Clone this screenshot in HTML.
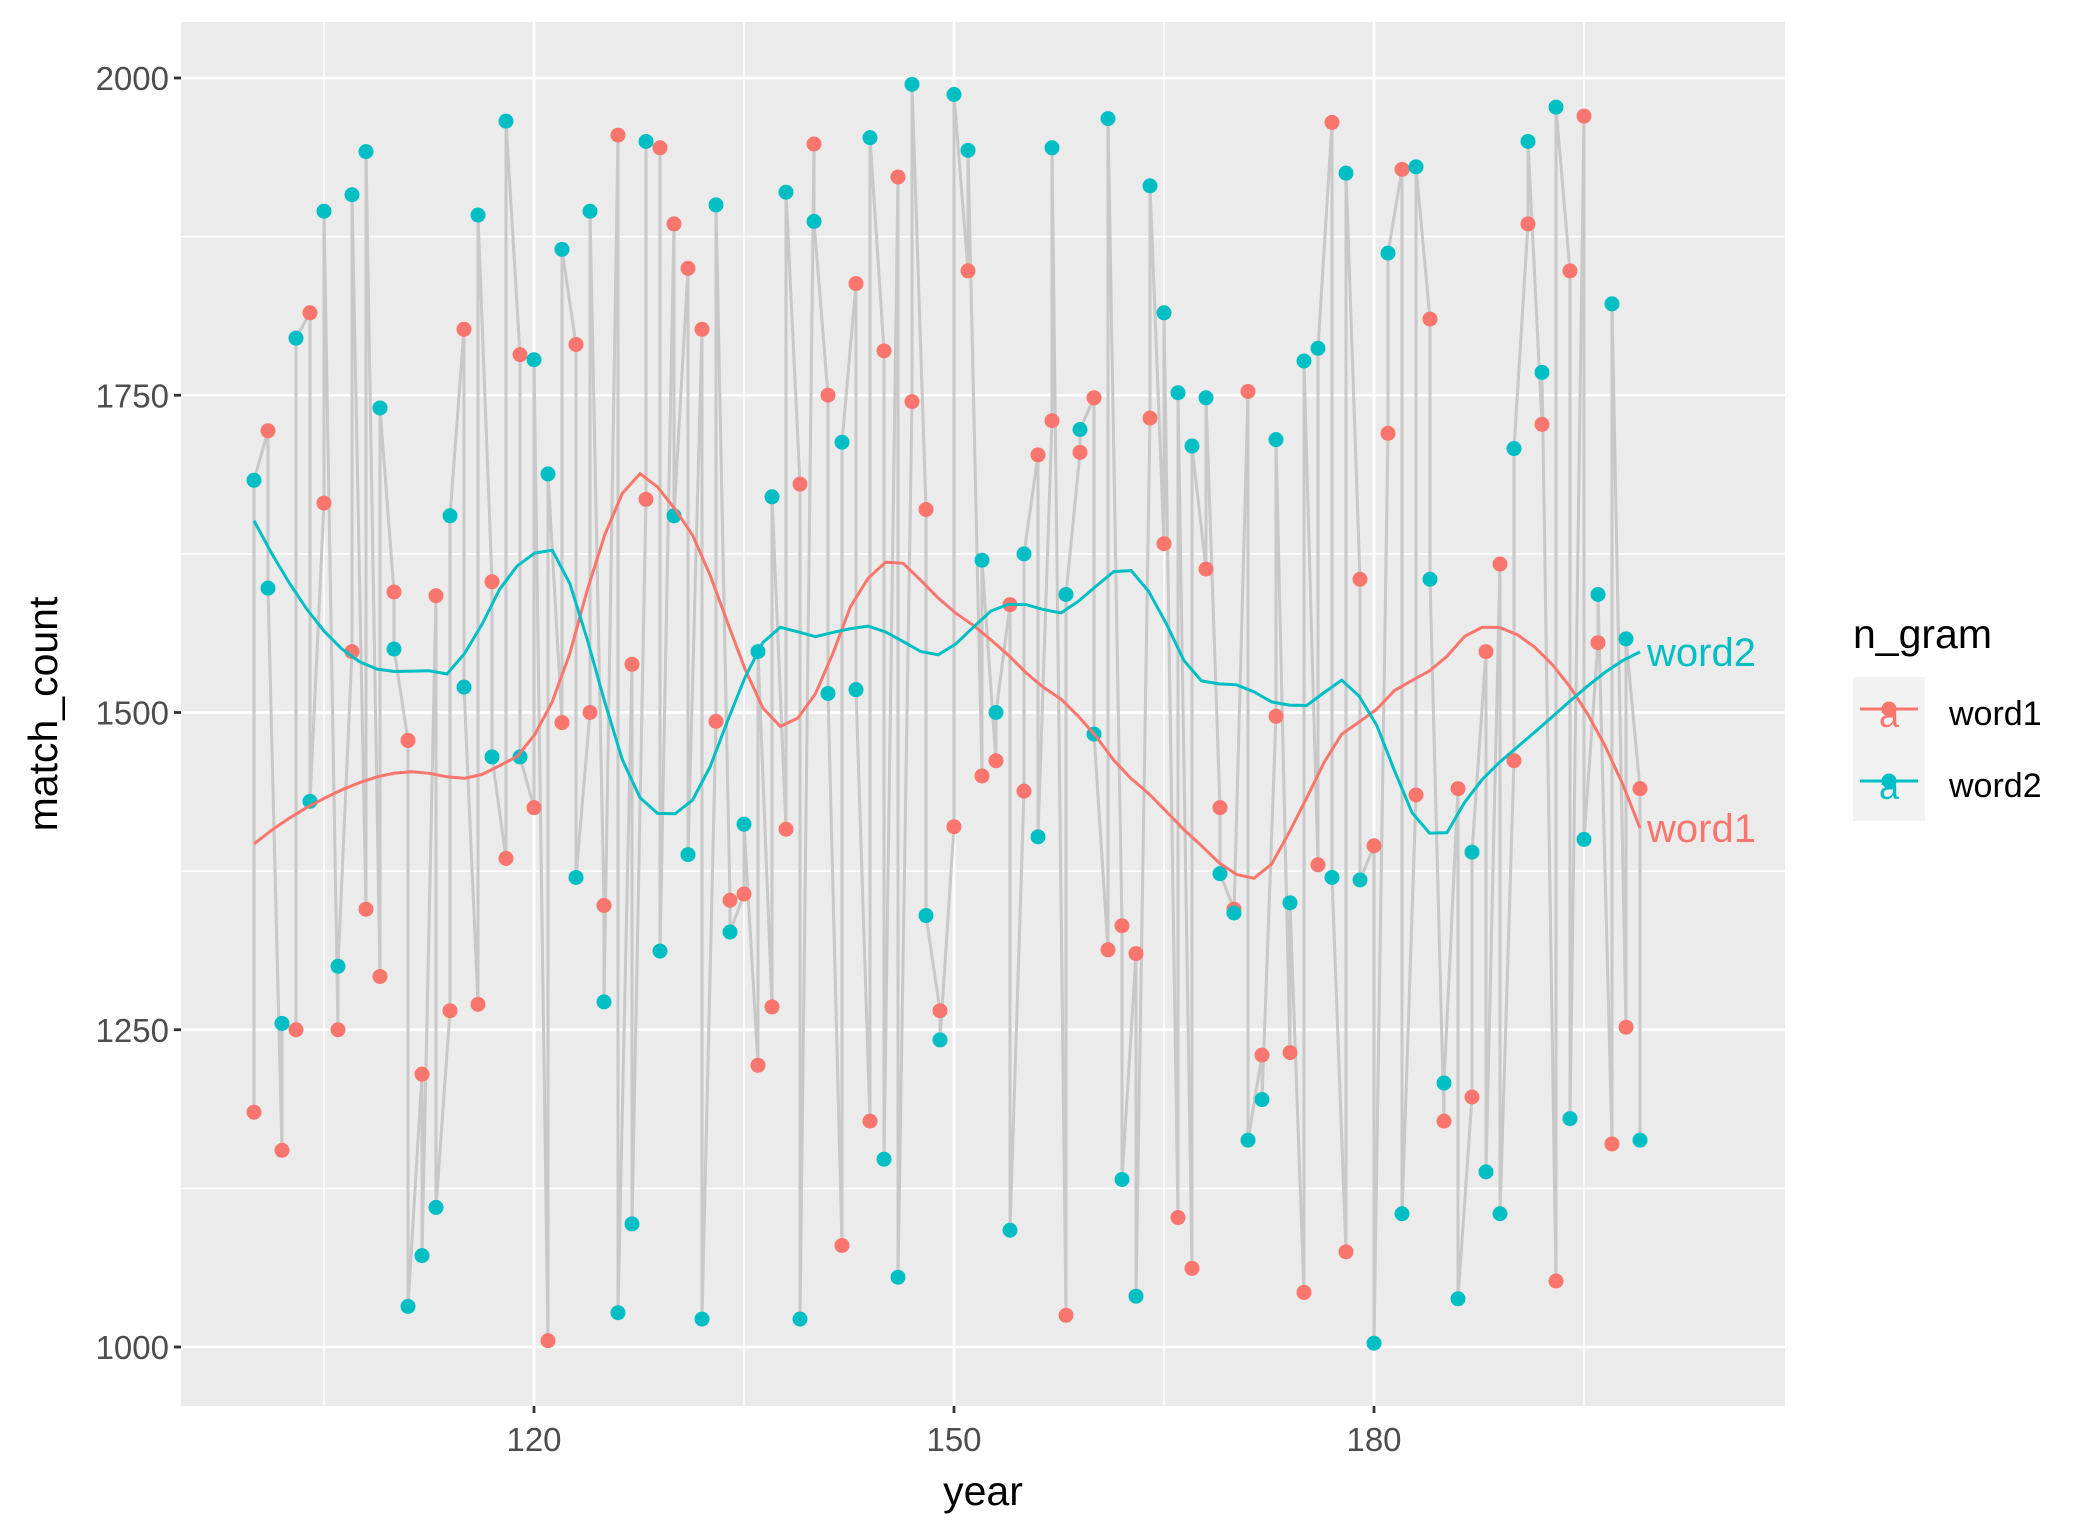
<!DOCTYPE html>
<html><head><meta charset="utf-8">
<style>
html,body{margin:0;padding:0;background:#fff;}
svg{display:block;font-family:"Liberation Sans",Arial,sans-serif;}
</style></head>
<body>
<svg id="chart" width="2096" height="1540" viewBox="0 0 2096 1540" xmlns="http://www.w3.org/2000/svg">
<rect x="0" y="0" width="2096" height="1540" fill="#ffffff"/>
<g id="plot"></g>
</svg>
<script>
const years = [100,101,102,103,104,105,106,107,108,109,110,111,112,113,114,115,116,117,118,119,120,121,122,123,124,125,126,127,128,129,130,131,132,133,134,135,136,137,138,139,140,141,142,143,144,145,146,147,148,149,150,151,152,153,154,155,156,157,158,159,160,161,162,163,164,165,166,167,168,169,170,171,172,173,174,175,176,177,178,179,180,181,182,183,184,185,186,187,188,189,190,191,192,193,194,195,196,197,198,199];
const word1 = [1185,1722,1155,1250,1815,1665,1250,1548,1345,1292,1595,1478,1215,1592,1265,1802,1270,1603,1385,1782,1425,1005,1492,1790,1500,1348,1955,1538,1668,1945,1885,1850,1802,1493,1352,1357,1222,1268,1408,1680,1948,1750,1080,1838,1178,1785,1922,1745,1660,1265,1410,1848,1450,1462,1585,1438,1703,1730,1025,1705,1748,1313,1332,1310,1732,1633,1102,1062,1613,1425,1345,1753,1230,1497,1232,1043,1380,1965,1075,1605,1395,1720,1928,1435,1810,1178,1440,1197,1548,1617,1462,1885,1727,1052,1848,1970,1555,1160,1252,1440];
const word2 = [1683,1598,1255,1795,1430,1895,1300,1908,1942,1740,1550,1032,1072,1110,1655,1520,1892,1465,1966,1465,1778,1688,1865,1370,1895,1272,1027,1097,1950,1312,1655,1388,1022,1900,1327,1412,1548,1670,1910,1022,1887,1515,1713,1518,1953,1148,1055,1995,1340,1242,1987,1943,1620,1500,1092,1625,1402,1945,1593,1723,1483,1968,1132,1040,1915,1815,1752,1710,1748,1373,1342,1163,1195,1715,1350,1777,1787,1370,1925,1368,1003,1862,1105,1930,1605,1208,1038,1390,1138,1105,1708,1950,1768,1977,1180,1400,1593,1822,1558,1163];
const yTicks = [1000,1250,1500,1750,2000];
const yMinor = [1125,1375,1625,1875];
const xTicks = [120,150,180];
const xMinor = [105,135,165,195];
const seriesNames = ["word1","word2"];

const P = {l:181, t:22, r:1785, b:1406};
const X = v => 254 + (v-100)*14.0;
const Y = v => 78 + (2000-v)*1.269;
const COL = {word1:"#F8766D", word2:"#00BFC4"};
const NS = "http://www.w3.org/2000/svg";
const g = document.getElementById('plot');
function mk(tag, attrs, parent){const e=document.createElementNS(NS,tag);for(const k in attrs)e.setAttribute(k,attrs[k]);(parent||g).appendChild(e);return e;}

let el = mk('rect',{x:P.l,y:P.t,width:P.r-P.l,height:P.b-P.t,fill:'#EBEBEB'});


yMinor.forEach(v=>{const e=mk('line',{x1:P.l,x2:P.r,y1:Y(v),y2:Y(v),stroke:'#fff','stroke-width':1.4});

});
xMinor.forEach(v=>{const e=mk('line',{x1:X(v),x2:X(v),y1:P.t,y2:P.b,stroke:'#fff','stroke-width':1.4});

});
yTicks.forEach(v=>{const e=mk('line',{x1:P.l,x2:P.r,y1:Y(v),y2:Y(v),stroke:'#fff','stroke-width':2.8});


const t=mk('line',{x1:P.l-7,x2:P.l,y1:Y(v),y2:Y(v),stroke:'#333','stroke-width':2.8});


const tx=mk('text',{x:P.l-12,y:Y(v)+12,'text-anchor':'end','font-size':33,fill:'#4D4D4D'});tx.textContent=v;

});
xTicks.forEach(v=>{const e=mk('line',{x1:X(v),x2:X(v),y1:P.t,y2:P.b,stroke:'#fff','stroke-width':2.8});


const t=mk('line',{x1:X(v),x2:X(v),y1:P.b,y2:P.b+7,stroke:'#333','stroke-width':2.8});


const tx=mk('text',{x:X(v),y:P.b+45,'text-anchor':'middle','font-size':33,fill:'#4D4D4D'});tx.textContent=v;

});

let pts=[];
years.forEach((yr,i)=>{pts.push(X(yr)+','+Y(word1[i]));pts.push(X(yr)+','+Y(word2[i]));});
el = mk('polyline',{points:pts.join(' '),fill:'none',stroke:'#C8C8C8','stroke-width':3,'stroke-linejoin':'round'});



[['word1',word1],['word2',word2]].forEach(([nm,vals])=>{
  vals.forEach((v,i)=>{const c=mk('circle',{cx:X(years[i]),cy:Y(v),r:7.5,fill:COL[nm]});
  
  });
});

function loess(xs, ys, span, x0){
  const n=xs.length, q=Math.max(3,Math.floor(span*n));
  const d=xs.map(x=>Math.abs(x-x0)).slice().sort((a,b)=>a-b);
  let h=d[q-1]*(span>1?span:1); if(h<=0)h=1e-9;
  let S=[0,0,0,0,0],T=[0,0,0];
  for(let i=0;i<n;i++){const u=Math.abs(xs[i]-x0)/h; if(u>=1)continue; const w=Math.pow(1-u*u*u,3); const dx=xs[i]-x0;
    S[0]+=w;S[1]+=w*dx;S[2]+=w*dx*dx;S[3]+=w*dx*dx*dx;S[4]+=w*dx*dx*dx*dx;
    T[0]+=w*ys[i];T[1]+=w*dx*ys[i];T[2]+=w*dx*dx*ys[i];}
  const A=[[S[0],S[1],S[2]],[S[1],S[2],S[3]],[S[2],S[3],S[4]]];
  const det=m=>m[0][0]*(m[1][1]*m[2][2]-m[1][2]*m[2][1])-m[0][1]*(m[1][0]*m[2][2]-m[1][2]*m[2][0])+m[0][2]*(m[1][0]*m[2][1]-m[1][1]*m[2][0]);
  const D=det(A); if(Math.abs(D)<1e-12) return T[0]/S[0];
  const A0=[[T[0],S[1],S[2]],[T[1],S[2],S[3]],[T[2],S[3],S[4]]];
  return det(A0)/D;
}
[['word1',word1],['word2',word2]].forEach(([nm,vals])=>{
  const x0=years[0], x1=years[years.length-1]; let p=[]; let last;
  for(let k=0;k<80;k++){const xv=x0+(x1-x0)*k/79; const yv=loess(years,vals,0.3,xv); last=yv; p.push(X(xv).toFixed(1)+','+Y(yv).toFixed(1));}
  const l=mk('polyline',{points:p.join(' '),fill:'none',stroke:COL[nm],'stroke-width':3});
  
  
  const t=mk('text',{x:X(x1)+7,y:Y(last)+14,'font-size':40,fill:COL[nm]}); t.textContent=nm;
  
  
});

el=mk('text',{x:(P.l+P.r)/2,y:1505,'text-anchor':'middle','font-size':41,fill:'#000'}); el.textContent='year';


el=mk('text',{x:0,y:0,'text-anchor':'middle','font-size':41,fill:'#000',transform:'translate(57,'+((P.t+P.b)/2)+') rotate(-90)'}); el.textContent='match_count';



el=mk('text',{x:1853,y:648,'font-size':41,fill:'#000'}); el.textContent='n_gram';


seriesNames.forEach((nm,i)=>{
  const cy=713+i*72;
  const bg=mk('rect',{x:1853,y:cy-36,width:72,height:72,fill:'#F2F2F2'});
  
  
  const ln=mk('line',{x1:1860,x2:1918,y1:cy-4,y2:cy-4,stroke:COL[nm],'stroke-width':3});
  
  
  const c=mk('circle',{cx:1889,cy:cy-4,r:7.5,fill:COL[nm]});
  
  
  const a=mk('text',{x:1889,y:cy+14,'text-anchor':'middle','font-size':36,fill:COL[nm]}); a.textContent='a';
  
  
  const t=mk('text',{x:1949,y:cy+12,'font-size':34,fill:'#000'}); t.textContent=nm;
  
  
});
</script>
</body></html>
